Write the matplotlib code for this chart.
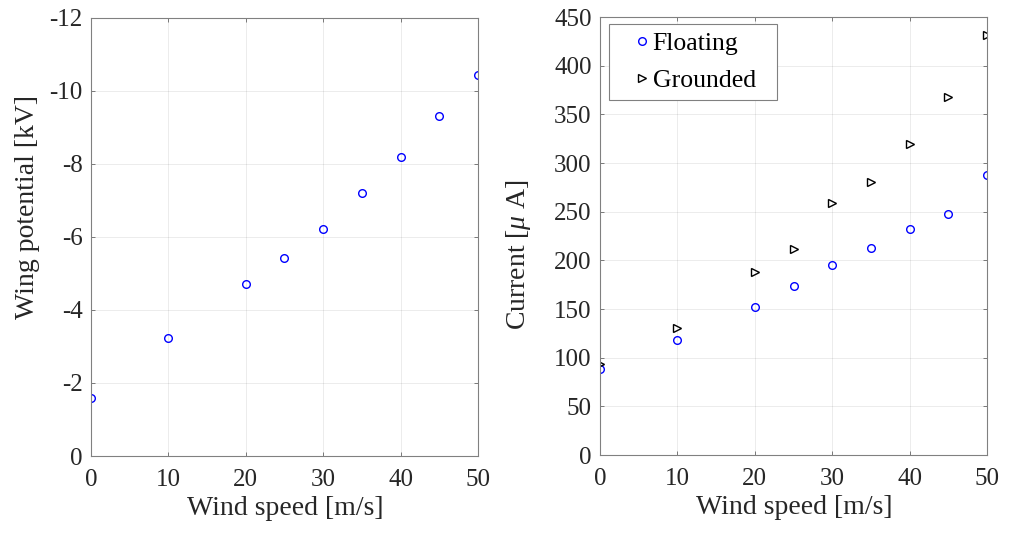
import matplotlib
matplotlib.use('Agg')
import matplotlib.pyplot as plt

plt.rcParams['font.family'] = ['Liberation Serif', 'DejaVu Serif']
plt.rcParams['axes.unicode_minus'] = False
plt.rcParams['mathtext.fontset'] = 'custom'
plt.rcParams['mathtext.it'] = 'Liberation Serif:italic'
plt.rcParams['mathtext.rm'] = 'Liberation Serif'

# data
wind = [0, 10, 20, 25, 30, 35, 40, 45, 50]
wing_potential = [-1.6, -3.23, -4.71, -5.42, -6.22, -7.21, -8.19, -9.31, -10.45]
current_floating = [88, 118, 152, 174, 195.5, 212.5, 232, 248, 288]
current_grounded = [93, 130, 188, 212, 258.5, 280, 320, 368, 432]

edge = (0.15, 0.15, 0.15)


def style_axes(ax):
    ax.grid(True, color=(0.15, 0.15, 0.15), alpha=0.1, linewidth=0.6)
    ax.set_axisbelow(True)
    for s in ax.spines.values():
        s.set_color((0.5, 0.5, 0.5))
        s.set_linewidth(0.8)
    ax.tick_params(direction='in', length=3, width=0.6, color=(0.4, 0.4, 0.4),
                   labelsize=18, labelcolor=edge, top=True, right=True)
    ax.tick_params(axis='x', pad=9)
    ax.tick_params(axis='y', pad=6)


fig = plt.figure(figsize=(10.12, 5.45), dpi=100)

# left panel: wing potential
ax1 = fig.add_axes([0.0899, 0.1633, 0.3824, 0.8037])
ax1.plot(wind, wing_potential, 'o', markerfacecolor='none', markeredgecolor='blue',
         markersize=5.5, markeredgewidth=1.0)
ax1.set_xlim(0, 50)
ax1.set_ylim(0, -12)
ax1.set_xticks(range(0, 51, 10))
ax1.set_yticks(range(0, -13, -2))
ax1.set_xlabel('Wind speed [m/s]', fontsize=20, color=edge)
ax1.set_ylabel('Wing potential [kV]', fontsize=20, color=edge)
ax1.xaxis.set_label_coords(0.503, -0.092)
ax1.yaxis.set_label_coords(-0.132, 0.568)
style_axes(ax1)

# right panel: current
ax2 = fig.add_axes([0.5929, 0.1651, 0.3824, 0.8037])
ax2.plot(wind, current_floating, 'o', markerfacecolor='none', markeredgecolor='blue',
         markersize=5.5, markeredgewidth=1.0, label='Floating')
ax2.plot(wind, current_grounded, '>', markerfacecolor='none', markeredgecolor='black',
         markersize=5.5, markeredgewidth=1.0, label='Grounded')
ax2.set_xlim(0, 50)
ax2.set_ylim(0, 450)
ax2.set_xticks(range(0, 51, 10))
ax2.set_yticks(range(0, 451, 50))
ax2.set_xlabel('Wind speed [m/s]', fontsize=20, color=edge)
ax2.set_ylabel(r'Current [$\mu$ A]', fontsize=20, color=edge)
ax2.xaxis.set_label_coords(0.503, -0.092)
ax2.yaxis.set_label_coords(-0.173, 0.457)
style_axes(ax2)

leg = ax2.legend(loc='upper left', bbox_to_anchor=(0.023, 0.808, 0.434, 0.176),
                 mode='expand', borderaxespad=0, fontsize=18.5, fancybox=False,
                 framealpha=1, edgecolor=(0.5, 0.5, 0.5), handletextpad=-0.6,
                 handlelength=2.0, labelspacing=0.55, borderpad=0.3)
leg.get_frame().set_linewidth(0.8)

fig.savefig('out.png', dpi=100)
